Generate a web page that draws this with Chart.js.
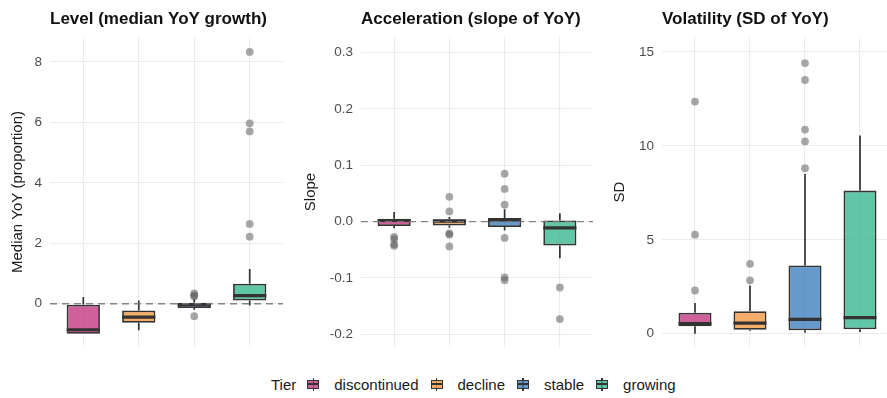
<!DOCTYPE html>
<html>
<head>
<meta charset="utf-8">
<script src="https://cdn.jsdelivr.net/npm/chart.js@4"></script>
<style>
  html, body { margin: 0; padding: 0; background: #fff; overflow: hidden; width: 887px; height: 398px; }
  body { position: relative; font-family: "Liberation Sans", Arial, sans-serif; }
  canvas { position: absolute; top: 0; }
  #legend { position: absolute; left: 271px; top: 374px; height: 20px; display: flex; align-items: center; font-size: 15px; color: #1a1a1a; white-space: nowrap; }
  #legend .lab { margin-left: 15px; margin-right: 12px; }
  #legend .head { margin-right: 11px; }
  .key { position: relative; display: inline-block; width: 12px; height: 13px; }
  .key::before { content: ""; position: absolute; left: 5.25px; top: 0; bottom: 0; width: 1.5px; background: #333; }
  .key i { position: absolute; left: 0; right: 0; top: 2px; bottom: 2px; border: 1.5px solid #333; box-sizing: border-box; }
  .key i::after { content: ""; position: absolute; left: 0; right: 0; top: 2.6px; height: 1.8px; background: #333; }
</style>
</head>
<body>
<canvas id="level" width="278" height="367" style="left:9px"></canvas>
<canvas id="slope" width="295" height="367" style="left:302px"></canvas>
<canvas id="sd" width="286" height="367" style="left:611px"></canvas>
<div id="legend"></div>
<script>
const tiers = ["discontinued", "decline", "stable", "growing"];
const tierFill = ["rgba(196,56,129,0.8)", "rgba(242,153,69,0.8)", "rgba(64,128,191,0.8)", "rgba(56,184,144,0.8)"];

// Level (median YoY growth)
const levelLow = [-0.99, -0.88, -0.2, -0.06];
const levelQ1 = [-0.99, -0.63, -0.14, 0.11];
const levelMedian = [-0.86, -0.44, -0.03, 0.27];
const levelQ3 = [-0.03, -0.22, 0.03, 0.66];
const levelHigh = [0.22, 0.11, 0.16, 1.15];
const levelOutliers = [[], [], [0.34, 0.28, 0.24, -0.41], [8.33, 5.97, 5.7, 2.64, 2.22]];
const levelTicks = [0, 2, 4, 6, 8];
const levelTickLabels = ["0", "2", "4", "6", "8"];

// Acceleration (slope of YoY)
const slopeLow = [-0.012, -0.011, -0.016, -0.065];
const slopeQ1 = [-0.008, -0.007, -0.0095, -0.0426];
const slopeMedian = [0.002, 0.001, 0.003, -0.011];
const slopeQ3 = [0.005, 0.004, 0.0065, 0.002];
const slopeHigh = [0.017, 0.008, 0.022, 0.015];
const slopeOutliers = [[-0.027, -0.031, -0.04, -0.043], [0.044, 0.018, -0.021, -0.023, -0.044], [0.085, 0.058, 0.03, -0.029, -0.099, -0.104], [-0.117, -0.173]];
const slopeTicks = [-0.2, -0.1, 0, 0.1, 0.2, 0.3];
const slopeTickLabels = ["-0.2", "-0.1", "0.0", "0.1", "0.2", "0.3"];

// Volatility (SD of YoY)
const sdLow = [0, 0.15, 0.05, 0.09];
const sdQ1 = [0.4, 0.21, 0.18, 0.23];
const sdMedian = [0.53, 0.56, 0.76, 0.85];
const sdQ3 = [1.12, 1.19, 3.63, 7.62];
const sdHigh = [1.63, 2.57, 8.51, 10.55];
const sdOutliers = [[12.36, 5.27, 2.3], [3.72, 2.84], [14.41, 13.51, 10.87, 10.24, 8.81], []];
const sdTicks = [0, 5, 10, 15];
const sdTickLabels = ["0", "5", "10", "15"];

Chart.defaults.font.family = "'Liberation Sans', Arial, sans-serif";

function boxChart(id, cfg) {
  const boxExtras = {
    id: "boxExtras",
    beforeDatasetsDraw(chart) {
      const ctx = chart.ctx, y = chart.scales.y;
      const bars = chart.getDatasetMeta(0).data;
      ctx.save();
      ctx.strokeStyle = "#333333";
      ctx.lineWidth = 1.7;
      bars.forEach((bar, i) => {
        ctx.beginPath();
        ctx.moveTo(bar.x, y.getPixelForValue(cfg.low[i]));
        ctx.lineTo(bar.x, y.getPixelForValue(cfg.q1[i]));
        ctx.moveTo(bar.x, y.getPixelForValue(cfg.q3[i]));
        ctx.lineTo(bar.x, y.getPixelForValue(cfg.high[i]));
        ctx.stroke();
      });
      ctx.restore();
    },
    afterDatasetsDraw(chart) {
      const ctx = chart.ctx, y = chart.scales.y, area = chart.chartArea;
      const bars = chart.getDatasetMeta(0).data;
      ctx.save();
      ctx.strokeStyle = "#333333";
      ctx.lineWidth = 3.2;
      bars.forEach((bar, i) => {
        const py = y.getPixelForValue(cfg.median[i]);
        ctx.beginPath();
        ctx.moveTo(bar.x - bar.width / 2, py);
        ctx.lineTo(bar.x + bar.width / 2, py);
        ctx.stroke();
      });
      if (cfg.zeroLine) {
        // dashed reference line at zero
        const zy = y.getPixelForValue(0);
        ctx.strokeStyle = "rgba(120,120,120,0.9)";
        ctx.lineWidth = 1.3;
        ctx.setLineDash([7, 5]);
        ctx.beginPath();
        ctx.moveTo(area.left, zy);
        ctx.lineTo(area.right, zy);
        ctx.stroke();
      }
      ctx.restore();
    },
    afterDraw(chart) {
      const ctx = chart.ctx;
      ctx.save();
      ctx.font = "bold 17px 'Liberation Sans', Arial, sans-serif";
      ctx.fillStyle = "#111111";
      ctx.textBaseline = "middle";
      ctx.textAlign = "left";
      ctx.fillText(cfg.title, chart.chartArea.left, 19);
      ctx.restore();
    },
  };

  return new Chart(document.getElementById(id), {
    data: {
      datasets: [
        {
          type: "bar",
          data: tiers.map((t, i) => ({ x: i, y: [cfg.q1[i], cfg.q3[i]] })),
          backgroundColor: tierFill,
          borderColor: "#333333",
          borderWidth: 1.8,
          borderSkipped: false,
          categoryPercentage: 1,
          barPercentage: 0.6,
        },
        {
          type: "line",
          data: cfg.outliers.flatMap((vals, i) => vals.map((v) => ({ x: i, y: v }))),
          showLine: false,
          pointRadius: 3.9,
          pointBackgroundColor: "rgba(95,95,95,0.55)",
          pointBorderWidth: 0,
          order: -1,
        },
      ],
    },
    options: {
      responsive: false,
      animation: false,
      layout: { padding: { top: 37, bottom: 20, left: 0, right: 0 } },
      plugins: { legend: { display: false }, tooltip: { enabled: false } },
      scales: {
        x: {
          type: "linear",
          min: -0.6,
          max: 3.6,
          offset: false,
          afterBuildTicks: (s) => { s.ticks = tiers.map((t, i) => ({ value: i })); },
          ticks: { display: false },
          grid: { color: "#ebebeb", lineWidth: 1.1, drawTicks: false, offset: false },
          border: { display: false },
          afterFit: (s) => { s.height = 0; },
        },
        y: {
          min: cfg.min,
          max: cfg.max,
          afterBuildTicks: (s) => { s.ticks = cfg.ticks.map((v) => ({ value: v })); },
          ticks: { color: "#4d4d4d", font: { size: 13.5 }, padding: 8, callback: (v, i) => cfg.tickLabels[i] },
          grid: { color: "#ebebeb", lineWidth: 1.1, drawTicks: false },
          border: { display: false },
          title: { display: true, text: cfg.yTitle, color: "#1a1a1a", font: { size: 15 }, padding: 0 },
          afterFit: (s) => { s.width = cfg.axisWidth; },
        },
      },
    },
    plugins: [boxExtras],
  });
}

boxChart("level", {
  title: "Level (median YoY growth)", yTitle: "Median YoY (proportion)", zeroLine: true,
  low: levelLow, q1: levelQ1, median: levelMedian, q3: levelQ3, high: levelHigh, outliers: levelOutliers,
  ticks: levelTicks, tickLabels: levelTickLabels, min: -1.43, max: 8.825, axisWidth: 41,
});
boxChart("slope", {
  title: "Acceleration (slope of YoY)", yTitle: "Slope", zeroLine: true,
  low: slopeLow, q1: slopeQ1, median: slopeMedian, q3: slopeQ3, high: slopeHigh, outliers: slopeOutliers,
  ticks: slopeTicks, tickLabels: slopeTickLabels, min: -0.2226, max: 0.3277, axisWidth: 59,
});
boxChart("sd", {
  title: "Volatility (SD of YoY)", yTitle: "SD", zeroLine: false,
  low: sdLow, q1: sdQ1, median: sdMedian, q3: sdQ3, high: sdHigh, outliers: sdOutliers,
  ticks: sdTicks, tickLabels: sdTickLabels, min: -0.71, max: 15.8, axisWidth: 51,
});

// legend
const legend = document.getElementById("legend");
legend.innerHTML = '<span class="head">Tier</span>' + tiers.map((t, i) =>
  '<span class="key"><i style="background:' + tierFill[i] + '"></i></span><span class="lab">' + t + "</span>"
).join("");
</script>
</body>
</html>
